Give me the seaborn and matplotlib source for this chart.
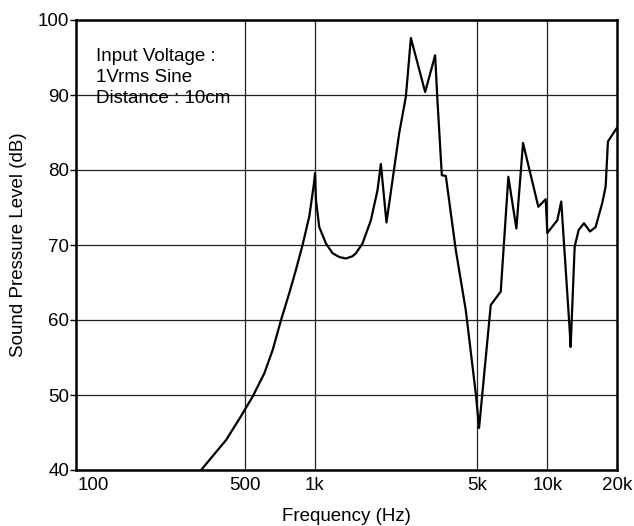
import matplotlib
matplotlib.use("Agg")
import matplotlib.pyplot as plt
import matplotlib.transforms as mtransforms
import seaborn as sns
import pandas as pd

# Data
freq_hz = [324.5, 415.6, 480, 540.8, 607, 659, 716, 777, 830, 886, 947, 990, 1003,
           1012, 1045, 1117, 1193, 1274, 1361, 1453, 1503, 1604, 1743, 1861, 1924, 2034,
           2307, 2465, 2590, 2983, 3293, 3369, 3519, 3661, 4042, 4461, 4925, 5088,
           5713, 6306, 6800, 7361, 7863, 9150, 9843, 10000, 11040, 11480, 12480,
           12600, 13115, 13640, 14380, 15260, 16140, 17230, 17820, 18230, 20000]
spl_db = [40, 44, 47.1, 49.8, 52.9, 56, 60, 63.6, 66.7, 70, 73.8, 78.0, 79.6,
          76, 72.4, 70.2, 68.9, 68.4, 68.2, 68.5, 68.9, 70.2, 73.3, 77.3, 80.8, 73.0,
          84.9, 89.8, 97.6, 90.4, 95.3, 89.3, 79.3, 79.2, 69.3, 61.3, 50.2, 45.6,
          62, 63.8, 79.1, 72.2, 83.6, 75.1, 76.1, 71.6, 73.3, 75.8, 58.7,
          56.4, 69.8, 72, 72.9, 71.8, 72.4, 75.6, 77.8, 83.8, 85.7]

x_ticks = [100, 500, 1000, 5000, 10000, 20000]
x_tick_labels = ["100", "500", "1k", "5k", "10k", "20k"]
x_grid = [500, 1000, 5000, 10000]
y_ticks = [40, 50, 60, 70, 80, 90, 100]
note_text = "Input Voltage :\n1Vrms Sine\nDistance : 10cm"

sns.set_theme(style="ticks")
plt.rcParams["font.family"] = ["Liberation Sans", "DejaVu Sans"]
plt.rcParams["text.color"] = "black"
plt.rcParams["axes.labelcolor"] = "black"

df = pd.DataFrame({"Frequency": freq_hz, "SPL": spl_db})

fig = plt.figure(figsize=(6.34, 5.26), dpi=100)
ax = fig.add_axes([76 / 634, 1 - 470 / 526, (617.3 - 76) / 634, 450 / 526])

sns.lineplot(data=df, x="Frequency", y="SPL", ax=ax, color="black",
             linewidth=1.6, sort=False, estimator=None, zorder=3)

ax.set_xscale("log")
ax.set_xlim(94, 20000)
ax.set_ylim(40, 100)

ax.set_xticks(x_ticks)
ax.set_xticklabels(x_tick_labels, fontsize=13.5)
ax.minorticks_off()
ax.set_yticks(y_ticks)
ax.set_yticklabels([str(v) for v in y_ticks], fontsize=13.5)
ax.tick_params(axis="x", length=0, pad=5, colors="black")
ax.tick_params(axis="y", length=4, width=1, pad=1, colors="black", direction="out")
lbl0 = ax.get_xticklabels()[0]
lbl0.set_horizontalalignment("left")
lbl0.set_transform(lbl0.get_transform() +
                   mtransforms.ScaledTranslation(-5 / 100, 0, fig.dpi_scale_trans))

ax.grid(False)
ax.yaxis.grid(True, color="#222222", linewidth=0.9)
for xv in x_grid:
    ax.axvline(xv, color="#222222", linewidth=0.9, zorder=1)
for s in ax.spines.values():
    s.set_visible(True)
    s.set_color("black")
    s.set_linewidth(1.8)
    s.set_zorder(4)

ax.set_xlabel("Frequency (Hz)", fontsize=13.5, labelpad=10)
ax.set_ylabel("Sound Pressure Level (dB)", fontsize=13.5, labelpad=8)

ax.text(0.037, 0.938, note_text, transform=ax.transAxes, fontsize=13.5,
        va="top", ha="left", linespacing=1.3, color="black")

fig.savefig("out.png", dpi=100, facecolor="white")
